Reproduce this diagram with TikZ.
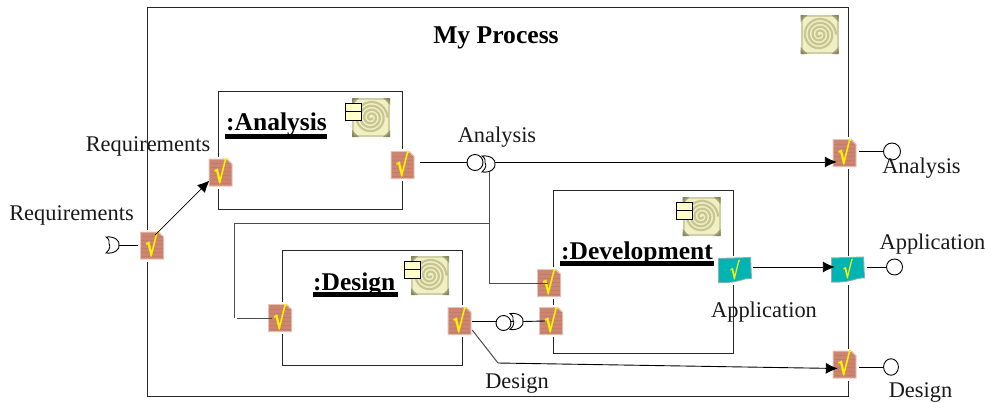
\documentclass[tikz,border=0pt]{standalone}
\usepackage{fontspec}
\usepackage{graphicx}
\setmainfont{Liberation Serif}
\newfontfamily\chkfont{DejaVu Sans}
\usetikzlibrary{arrows.meta,calc}
\definecolor{portc}{HTML}{CC8570}
\definecolor{portd}{HTML}{C27C67}
\definecolor{porth}{HTML}{E6C4B8}
\definecolor{tealc}{HTML}{00B4B4}
\definecolor{tealh}{HTML}{8FB0B0}
\definecolor{compc}{HTML}{FFFFC8}
\definecolor{iconl}{HTML}{F1EFC4}
\definecolor{icond}{HTML}{6E6E48}
\definecolor{spir}{HTML}{C6C692}
\newcommand\txtfs{\fontsize{22.4}{24}\selectfont}
\tikzset{
  x=1pt,y=-1pt,
  line/.style={draw=black,line width=0.9pt},
  gline/.style={draw=black!70,line width=1pt},
  frame/.style={draw=black!85,line width=1pt,fill=none},
  arr/.style={line,-{Latex[length=12pt,width=11pt]}},
  lab/.style={font=\txtfs,inner sep=0pt,text=black!90},
  ttl/.style={font=\fontsize{25.5}{28}\selectfont\bfseries,inner sep=0pt,anchor=base west},
  ul/.style={fill=black,draw=none},
  ball/.style={circle,draw=black,line width=0.9pt,fill=white,inner sep=0pt,minimum size=#1},
  sock/.style={draw=black,line width=0.9pt,fill=white},
  chk/.style={inner sep=0pt,text=yellow,font=\chkfont\bfseries\fontsize{24}{24}\selectfont},
  port/.style={rectangle,inner sep=0pt,minimum width=25pt,minimum height=29pt},
  tport/.style={rectangle,inner sep=0pt,minimum width=36pt,minimum height=27pt},
  comp/.style={rectangle,draw=black,line width=0.9pt,fill=compc,inner sep=0pt,minimum width=16pt,minimum height=17pt},
}
% name, x, y
\newcommand\portn[3]{%
  \begin{scope}[shift={(#2,#3)}]
    \fill[white] (-14,-16) rectangle (14,16);
    \fill[porth] (-12,-14) -- (7,-14) -- (12,-9) -- (12,14) -- (-12,14) -- cycle;
    \fill[portc] (-11,-13) -- (6,-13) -- (11,-8) -- (11,13) -- (-11,13) -- cycle;
    \foreach \yy in {-9,-5,...,11}{\draw[portd,line width=0.7pt] (-10.5,\yy) -- (10.5,\yy);}
  \end{scope}
  \node[port] (#1) at (#2,#3) {};
  \node[chk] (#1t) at (#2,#3-1) {\scalebox{0.85}[1.25]{√}};}
\newcommand\tportn[3]{%
  \begin{scope}[shift={(#2,#3)}]
    \fill[white] (-19,-14) rectangle (19,15);
    \fill[tealh] (-17,-12) -- (16,-13) -- (17,9) .. controls (8,8) and (4,14) .. (-17,13) -- cycle;
    \fill[tealc] (-16,-11) -- (15,-12) -- (16,8) .. controls (8,7) and (4,13) .. (-16,12) -- cycle;
  \end{scope}
  \node[tport] (#1) at (#2,#3) {};
  \node[chk,font=\chkfont\bfseries\fontsize{19}{19}\selectfont] (#1t) at (#2,#3) {\scalebox{0.8}[1.2]{√}};}
\newcommand\iconn[3]{%
  \node[rectangle,inner sep=0pt,minimum width=38pt,minimum height=39pt] (#1) at (#2,#3) {};
  \begin{scope}[shift={(#2,#3)}]
    \fill[iconl] (-19,-19.5) rectangle (19,19.5);
    \draw[spir,line width=2.2pt] plot[domain=0:1440,samples=150,smooth] ({(1+\x/1440*15.5)*cos(\x)},{(1+\x/1440*15.5)*sin(\x)});
    \draw[icond,opacity=0.25,line width=2pt] (-18,-18.5) rectangle (18,18.5);
    \foreach \sx/\sy in {-1/-1,1/-1,1/1,-1/1}{
      \fill[icond,opacity=0.55] (\sx*19,\sy*19.5) -- (\sx*12,\sy*19.5) -- (\sx*19,\sy*12.5) -- cycle;
      \fill[icond,opacity=0.45] (\sx*19,\sy*19.5) -- (\sx*15,\sy*19.5) -- (\sx*19,\sy*15.5) -- cycle;}
  \end{scope}}
\newcommand\compn[3]{%
  \node[comp] (#1) at (#2,#3) {};
  \draw[line] (#1.west) -- (#1.east);}
\newcommand\sockn[1]{%
  \begin{scope}[shift={(#1)}]
    \draw[sock] (-6,-8) .. controls (3,-9) and (8,-4) .. (7,0) .. controls (8,4) and (3,9) .. (-6,8) .. controls (-1,4) and (-2,-1) .. (-3,-1) .. controls (-2,-3) and (-3,-6) .. cycle;
  \end{scope}}
\begin{document}
\begin{tikzpicture}
\useasboundingbox (0,0) rectangle (985,402);
\fill[white] (0,0) rectangle (985,402);
% frames
\node[frame,minimum width=701pt,minimum height=389pt,inner sep=0pt] (outer) at (497.5,201.5) {};
\node[frame,minimum width=184pt,minimum height=118pt,inner sep=0pt] (bxAn) at (310,150) {};
\node[frame,minimum width=180pt,minimum height=115pt,inner sep=0pt] (bxDe) at (372,307.5) {};
\node[frame,minimum width=180pt,minimum height=163pt,inner sep=0pt] (bxDv) at (643,271.5) {};
% icons
\iconn{iTop}{819.5}{34.5}
\iconn{iAn}{371}{117.5}
\iconn{iDe}{430}{275.5}
\iconn{iDv}{701.5}{216.5}
\compn{cAn}{353.5}{111.5}
\compn{cDe}{412.5}{269.5}
\compn{cDv}{684}{210.5}
% ports
\portn{pReq}{152}{245.5}
\portn{pAnI}{220.5}{172.5}
\portn{pAnO}{402.5}{165}
\portn{pDeI}{280}{318}
\portn{pDeO}{459.5}{321}
\portn{pDv1}{549}{283}
\portn{pDv2}{551}{321}
\portn{pAnX}{844.5}{153}
\portn{pDeX}{844.5}{364.5}
\tportn{pDvO}{735}{270}
\tportn{pApX}{848}{269.5}
% lollipops
\node[ball=17pt] (bAnX) at (892,151.5) {};
\node[ball=16pt] (bApX) at (894.5,267) {};
\node[ball=16.5pt,xscale=0.9] (bDeX) at (891,367) {};
\coordinate (kReq) at (112,245);
\coordinate (kAn) at (488,164);
\coordinate (kDe) at (516,321.5);
\coordinate (jHi) at (489,171);
\coordinate (jTurn) at (489,223);
\coordinate (jElbow) at (489,283);
\coordinate (jLeft) at (234,223);
\coordinate (jDown) at (234,318);
\coordinate (jStart) at (237,318);
\coordinate (dKnee) at (498,363);
\coordinate (aEnd) at ($(pAnX.west)+(5,9)$);
% stubs
\draw[line] ([xshift=2]pAnX.east |- bAnX) -- (bAnX);
\draw[line] ([xshift=1]pApX.east |- bApX) -- (bApX);
\draw[line] ([xshift=2]pDeX.east |- bDeX) -- (bDeX);
\draw[line] ([xshift=7]kReq) -- ([xshift=-1]pReq.west |- kReq);
% feedback and links
\draw[gline] (jHi) -- (jElbow) -- ([xshift=-1]pDv1.center);
\draw[gline] (jTurn) -- (jLeft) -- (jDown);
\draw[gline] (jStart) -- ([xshift=-8]pDeI.center);
\node[ball=16pt] (bAn) at (475,162.5) {};
\draw[line] ([xshift=5]pAnO.east |- aEnd) -- (bAn.west |- aEnd);
\sockn{kAn}
\draw[arr] ([xshift=7]kAn |- aEnd) -- (aEnd);
\draw[line] (pDeO.east |- kDe) -- (kDe);
\node[ball=15pt] (bDe) at (503.5,323) {};
\draw[line] ([xshift=7]kDe) -- ([xshift=-6]pDv2.center);
\sockn{kDe}
\sockn{kReq}
\draw[arr,line width=0.7pt] ([shift={(3,-10.5)}]pReq.center) -- ([shift={(-11,8)}]pAnI.center);
\draw[arr] (pDvO.east |- bApX) -- ([xshift=5]pApX.west |- bApX);
\draw[gline] ([shift={(0,9)}]pDeO.east) -- (dKnee);
\draw[arr] (dKnee) -- ([shift={(6,4)}]pDeX.west);
% titles
\node[font=\fontsize{25.6}{28}\selectfont\bfseries,inner sep=0pt] (tMain) at (496,38) {My Process};
\node[ttl] (tAn) at (226,130) {:Analysis};
\fill[ul] (225,134) rectangle (327,139);
\node[ttl] (tDe) at (313,290.5) {:Design};
\fill[ul] (313,292) rectangle (398,297);
\node[ttl] (tDv) at (561,259) {:Development};
\fill[ul] (560,261) rectangle (714,266);
% labels
\node[lab] (l1) at (148,146) {Requirements};
\node[lab] (l2) at (71.5,215) {Requirements};
\node[lab] (l3) at (497,137) {Analysis};
\node[lab] (l4) at (921.5,168) {Analysis};
\node[lab] (l5) at (932.5,244) {Application};
\node[lab] (l6) at (764,312) {Application};
\node[lab] (l7) at (517,383) {Design};
\node[lab] (l8) at (920.5,392.5) {Design};
\end{tikzpicture}
\end{document}
